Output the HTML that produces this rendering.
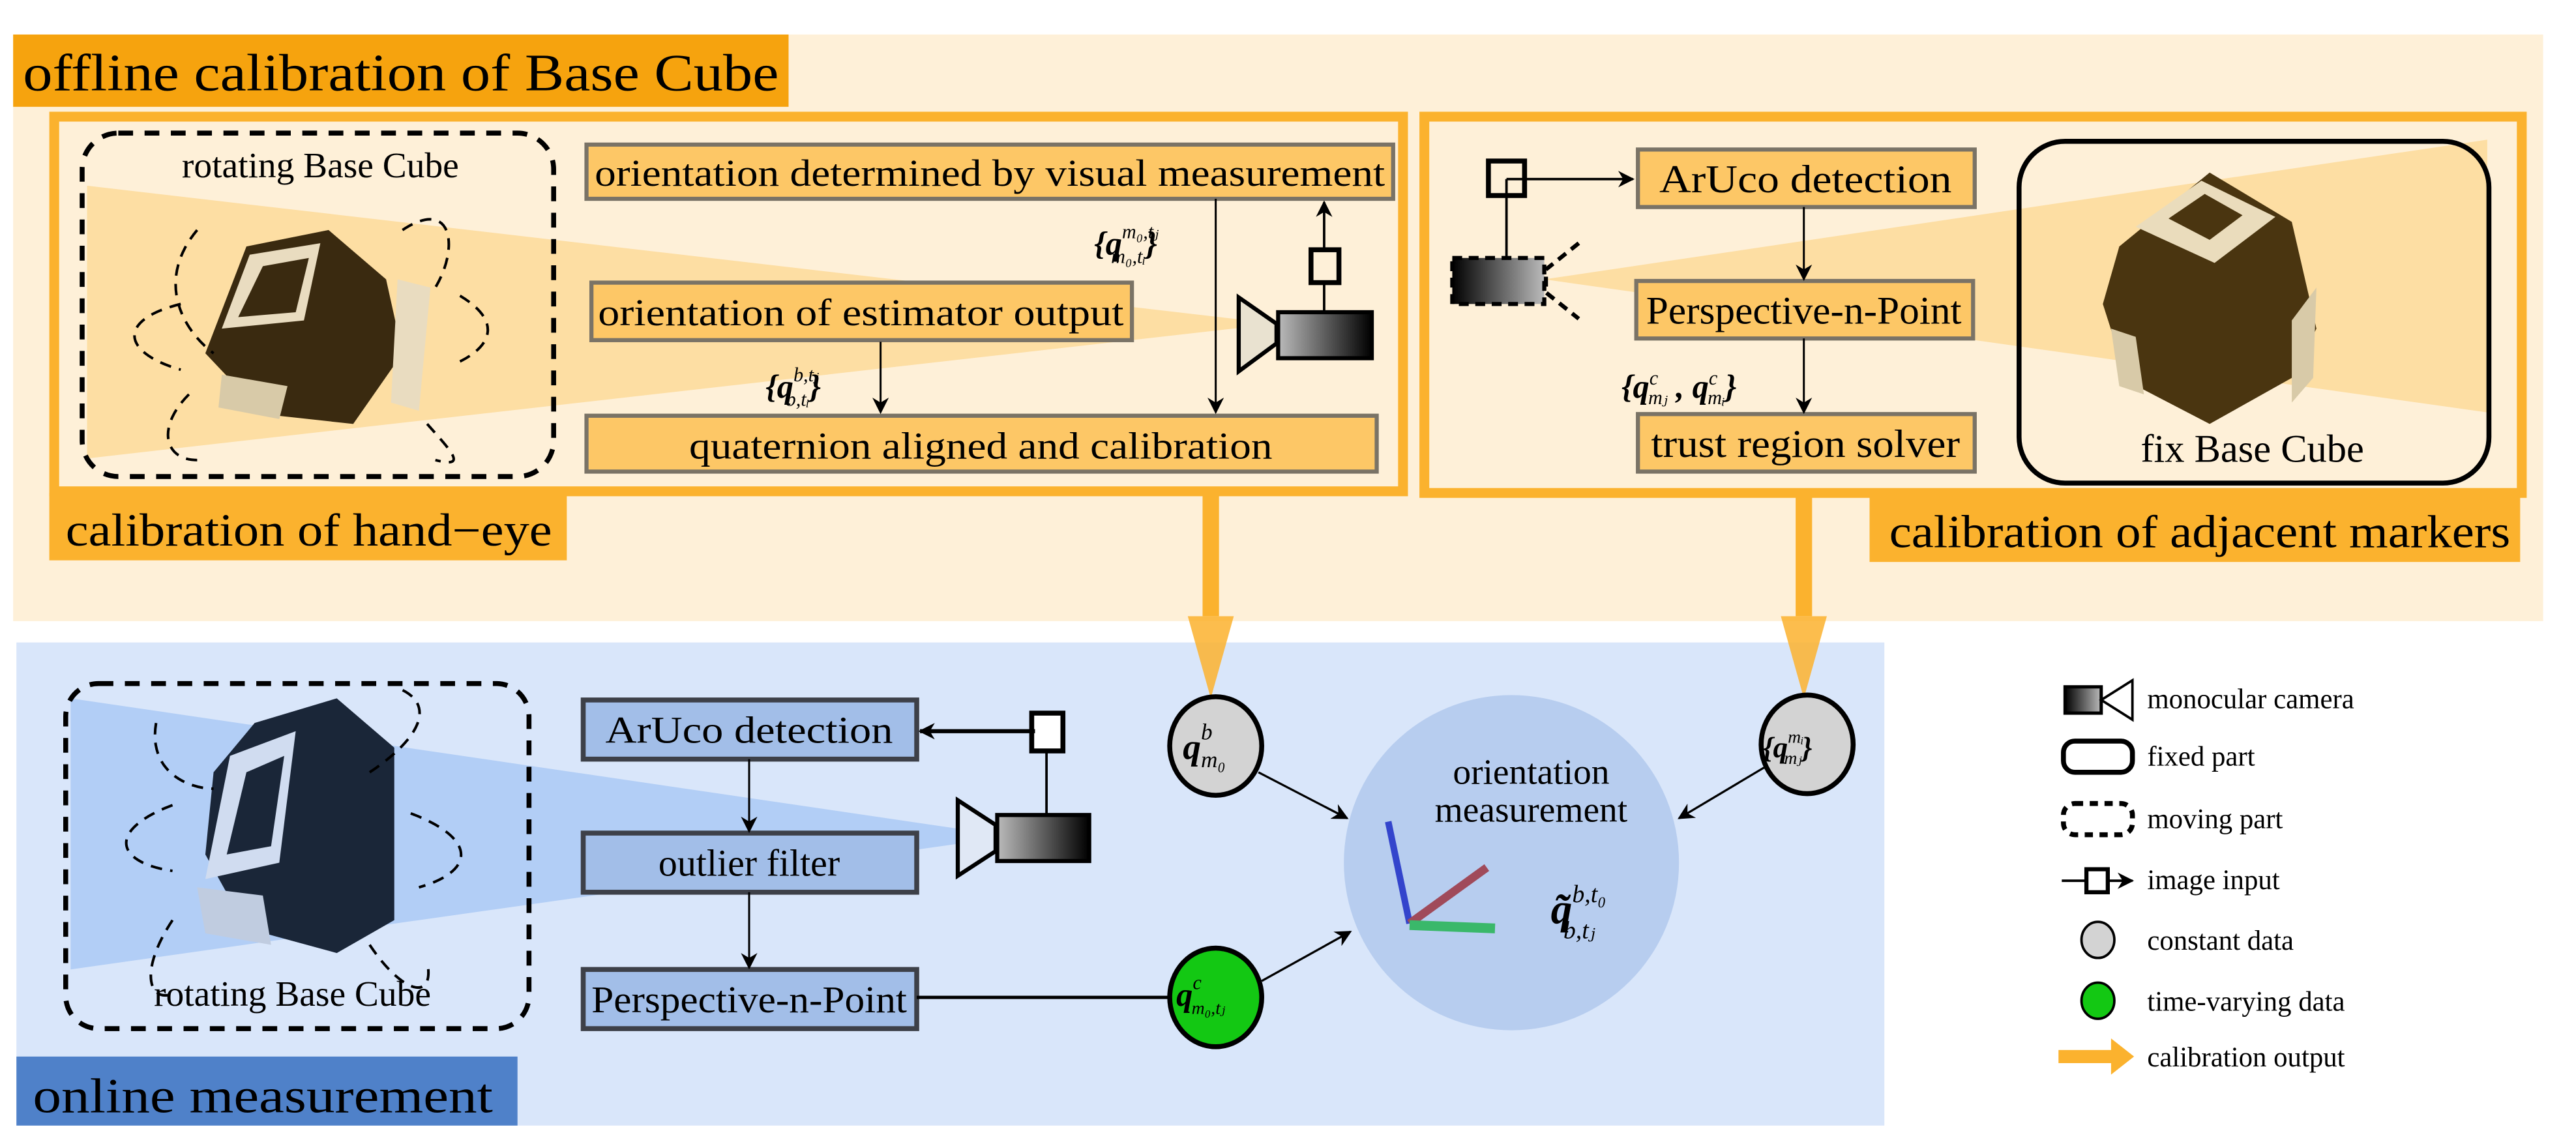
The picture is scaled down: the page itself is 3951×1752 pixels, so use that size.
<!DOCTYPE html>
<html><head><meta charset="utf-8"><style>html,body{margin:0;padding:0;background:#fff}svg{display:block}svg text{font-family:"Liberation Serif","Times New Roman","DejaVu Serif",serif;fill:#000}</style></head>
<body>
<svg width="3951" height="1752" viewBox="0 0 1568 695" preserveAspectRatio="none" xmlns="http://www.w3.org/2000/svg">
<defs>
<marker id="ah" markerWidth="10" markerHeight="10" refX="9" refY="5" orient="auto" markerUnits="userSpaceOnUse"><path d="M0,0 L10,5 L0,10 L3,5 Z" fill="#000"/></marker>
<linearGradient id="cg" x1="0" x2="1"><stop offset="0" stop-color="#000"/><stop offset="1" stop-color="#bbb"/></linearGradient>
<linearGradient id="cg2" x1="0" x2="1"><stop offset="0" stop-color="#bbb"/><stop offset="1" stop-color="#000"/></linearGradient>
</defs>
<rect x="8" y="21" width="1540" height="357" fill="#FEF0D8"/>
<rect x="8" y="21" width="472" height="44" fill="#F6A30E"/>
<text x="14" y="55" font-size="32" textLength="460" lengthAdjust="spacingAndGlyphs">offline calibration of Base Cube</text>

<rect x="33" y="71" width="821" height="228" fill="#FEF0D8" stroke="#FBB22E" stroke-width="6"/>
<rect x="30" y="300" width="315" height="41" fill="#FBB22E"/>
<text x="40" y="332" font-size="28" textLength="296" lengthAdjust="spacingAndGlyphs">calibration of hand−eye</text>
<polygon points="53,113 777,197 53,279" fill="#FCD996" opacity="0.8"/>
<rect x="50" y="81" width="287" height="209" rx="22" fill="none" stroke="#000" stroke-width="3" stroke-dasharray="9,7"/>
<text x="195" y="108" font-size="22" text-anchor="middle">rotating Base Cube</text>
<g>
<polygon points="150,150 200,140 235,170 245,215 215,258 160,252 125,215" fill="#3a2a10"/>
<polygon points="152,155 195,148 185,195 135,200" fill="#e9dcc0"/>
<polygon points="160,162 188,157 180,190 145,193" fill="#3a2a10"/>
<polygon points="242,170 262,175 255,250 238,245" fill="#e9dcc0"/>
<polygon points="135,228 175,235 170,255 133,248" fill="#d8caa8"/>
</g>
<g fill="none" stroke="#000" stroke-width="1.6" stroke-dasharray="7,5">
<path d="M120,140 C95,170 110,200 130,215"/>
<path d="M245,140 C275,120 280,150 265,175"/>
<path d="M110,185 C70,195 75,215 110,225"/>
<path d="M280,180 C305,195 300,210 280,220"/>
<path d="M115,240 C95,260 100,280 120,280"/>
<path d="M260,258 C275,275 285,285 265,280"/>
</g>
<rect x="357" y="88" width="491" height="33" fill="#FDC766" stroke="#7a7366" stroke-width="2.5"/>
<text x="362" y="113" font-size="23" textLength="481" lengthAdjust="spacingAndGlyphs">orientation determined by visual measurement</text>
<rect x="360" y="172" width="329" height="35" fill="#FDC766" stroke="#7a7366" stroke-width="2.5"/>
<text x="364" y="198" font-size="23" textLength="320" lengthAdjust="spacingAndGlyphs">orientation of estimator output</text>
<rect x="357" y="253" width="481" height="34" fill="#FDC766" stroke="#7a7366" stroke-width="2.5"/>
<text x="597" y="279" font-size="23" text-anchor="middle" textLength="355" lengthAdjust="spacingAndGlyphs">quaternion aligned and calibration</text>
<line x1="536" y1="208" x2="536" y2="251" stroke="#000" stroke-width="1.2" marker-end="url(#ah)"/>
<line x1="740" y1="121" x2="740" y2="251" stroke="#000" stroke-width="1.2" marker-end="url(#ah)"/>
<text x="466" y="242" font-size="20" font-style="italic" font-weight="bold">{q<tspan font-size="12" font-weight="normal" dy="-10">b,tⱼ</tspan><tspan font-size="12" font-weight="normal" dx="-20" dy="15">b,tᵢ</tspan><tspan font-size="20" dy="-5">}</tspan></text>
<text x="666" y="155" font-size="20" font-style="italic" font-weight="bold">{q<tspan font-size="12" font-weight="normal" dy="-10">m₀,tⱼ</tspan><tspan font-size="12" font-weight="normal" dx="-29" dy="15">m₀,tᵢ</tspan><tspan font-size="20" dy="-5">}</tspan></text>
<polygon points="754,181 777,197 777,209 754,226" fill="#e9e2d0" stroke="#000" stroke-width="2.5"/>
<rect x="778" y="190" width="57" height="28" fill="url(#cg2)" stroke="#000" stroke-width="2.5"/>
<line x1="806" y1="190" x2="806" y2="123" stroke="#000" stroke-width="1.5" marker-end="url(#ah)"/>
<rect x="798" y="152" width="17" height="20" fill="#FEF0D8" stroke="#000" stroke-width="3"/>

<rect x="867" y="71" width="668" height="229" fill="#FEF0D8" stroke="#FBB22E" stroke-width="6"/>
<rect x="1138" y="301" width="396" height="41" fill="#FBB22E"/>
<text x="1150" y="333" font-size="28" textLength="378" lengthAdjust="spacingAndGlyphs">calibration of adjacent markers</text>
<polygon points="940,170 1514,85 1514,251" fill="#FCD996" opacity="0.8"/>
<rect x="1229" y="86" width="286" height="208" rx="28" fill="none" stroke="#000" stroke-width="3"/>
<g>
<polygon points="1290,150 1345,105 1395,135 1410,200 1395,230 1345,258 1295,232 1280,185" fill="#4a3510"/>
<polygon points="1300,138 1340,110 1385,132 1348,160" fill="#eadcbc"/>
<polygon points="1320,133 1342,118 1365,131 1345,146" fill="#4a3510"/>
<polygon points="1395,195 1410,175 1408,230 1395,245" fill="#d8caa8"/>
<polygon points="1285,200 1300,205 1305,240 1290,235" fill="#d8caa8"/>
</g>
<text x="1371" y="281" font-size="24" text-anchor="middle">fix Base Cube</text>
<rect x="997" y="91" width="205" height="35" fill="#FDC766" stroke="#7a7366" stroke-width="2.5"/>
<text x="1099" y="117" font-size="24" text-anchor="middle" textLength="178" lengthAdjust="spacingAndGlyphs">ArUco detection</text>
<rect x="996" y="171" width="205" height="35" fill="#FDC766" stroke="#7a7366" stroke-width="2.5"/>
<text x="1098" y="197" font-size="24" text-anchor="middle" textLength="192" lengthAdjust="spacingAndGlyphs">Perspective-n-Point</text>
<rect x="997" y="252" width="205" height="35" fill="#FDC766" stroke="#7a7366" stroke-width="2.5"/>
<text x="1099" y="278" font-size="24" text-anchor="middle" textLength="188" lengthAdjust="spacingAndGlyphs">trust region solver</text>
<line x1="1098" y1="126" x2="1098" y2="170" stroke="#000" stroke-width="1.2" marker-end="url(#ah)"/>
<line x1="1098" y1="206" x2="1098" y2="251" stroke="#000" stroke-width="1.2" marker-end="url(#ah)"/>
<text x="987" y="242" font-size="20" font-style="italic" font-weight="bold">{q<tspan font-size="12" font-weight="normal" dy="-8">c</tspan><tspan font-size="12" font-weight="normal" dx="-6" dy="12">mⱼ</tspan><tspan dy="-4"> , q</tspan><tspan font-size="12" font-weight="normal" dy="-8">c</tspan><tspan font-size="12" font-weight="normal" dx="-6" dy="12">mᵢ</tspan><tspan dy="-4">}</tspan></text>
<rect x="884" y="157" width="56" height="28" fill="url(#cg)" stroke="#000" stroke-width="2.5" stroke-dasharray="6,4"/>
<polyline points="961,148 941,164 941,178 961,194" fill="none" stroke="#000" stroke-width="2.5" stroke-dasharray="6,4"/>
<line x1="917" y1="156" x2="917" y2="109" stroke="#000" stroke-width="1.5"/>
<rect x="906" y="98" width="22" height="21" fill="none" stroke="#000" stroke-width="3"/>
<line x1="917" y1="109" x2="994" y2="109" stroke="#000" stroke-width="1.5" marker-end="url(#ah)"/>

<rect x="10" y="391" width="1137" height="294" fill="#D9E6FA"/>
<rect x="10" y="643" width="305" height="42" fill="#4F81C9"/>
<text x="20" y="677" font-size="30" textLength="280" lengthAdjust="spacingAndGlyphs">online measurement</text>
<polygon points="43,425 615,509 43,590" fill="#A8C8F5" opacity="0.8"/>
<g>
<polygon points="155,440 205,425 240,455 240,560 205,580 150,565 125,520 130,470" fill="#1a2638"/>
<polygon points="140,460 180,445 170,525 125,535" fill="#d0dcf0"/>
<polygon points="150,470 173,460 165,515 138,520" fill="#1a2638"/>
<polygon points="120,540 160,545 165,575 125,568" fill="#c0cce0"/>
</g>
<g fill="none" stroke="#000" stroke-width="1.6" stroke-dasharray="7,5">
<path d="M95,440 C90,470 115,480 130,480"/>
<path d="M225,470 C255,450 265,430 245,420"/>
<path d="M105,490 C65,505 70,525 105,530"/>
<path d="M250,495 C290,510 290,530 255,540"/>
<path d="M105,560 C85,590 90,610 105,605"/>
<path d="M225,575 C245,605 265,610 260,585"/>
</g>
<rect x="40" y="416" width="282" height="210" rx="20" fill="none" stroke="#000" stroke-width="3" stroke-dasharray="9,7"/>
<text x="178" y="612" font-size="22" text-anchor="middle">rotating Base Cube</text>
<g stroke="#3d4048" stroke-width="3">
<rect x="355" y="426" width="203" height="36" fill="#A2BEE8"/>
<rect x="355" y="507" width="203" height="36" fill="#A2BEE8"/>
<rect x="355" y="590" width="203" height="36" fill="#A2BEE8"/>
</g>
<text x="456" y="452" font-size="23" text-anchor="middle" textLength="175" lengthAdjust="spacingAndGlyphs">ArUco detection</text>
<text x="456" y="533" font-size="23" text-anchor="middle">outlier filter</text>
<text x="456" y="616" font-size="23" text-anchor="middle" textLength="192" lengthAdjust="spacingAndGlyphs">Perspective-n-Point</text>
<line x1="456" y1="462" x2="456" y2="506" stroke="#000" stroke-width="1.2" marker-end="url(#ah)"/>
<line x1="456" y1="543" x2="456" y2="589" stroke="#000" stroke-width="1.2" marker-end="url(#ah)"/>
<line x1="558" y1="607" x2="712" y2="607" stroke="#000" stroke-width="2"/>
<polygon points="583,487 606,502 606,518 583,533" fill="#e0e8f5" stroke="#000" stroke-width="2.5"/>
<rect x="607" y="496" width="56" height="28" fill="url(#cg2)" stroke="#000" stroke-width="2.5"/>
<line x1="637" y1="496" x2="637" y2="445" stroke="#000" stroke-width="1.5"/>
<rect x="628" y="434" width="19" height="23" fill="#fff" stroke="#000" stroke-width="3"/>
<line x1="630" y1="445" x2="560" y2="445" stroke="#000" stroke-width="2.5" marker-end="url(#ah)"/>

<g fill="#FBB22E">
<rect x="732" y="300" width="10" height="75"/>
<polygon points="723,375 751,375 737,425" opacity="0.85"/>
<rect x="1093" y="300" width="10" height="75"/>
<polygon points="1084,375 1112,375 1098,425" opacity="0.85"/>
</g>
<circle cx="920" cy="525" r="102" fill="#B7CDEF"/>
<ellipse cx="740" cy="454" rx="28" ry="30" fill="#D3D3D3" stroke="#000" stroke-width="3"/>
<ellipse cx="1100" cy="453" rx="28" ry="30" fill="#D3D3D3" stroke="#000" stroke-width="3"/>
<ellipse cx="740" cy="607" rx="28" ry="30" fill="#13C813" stroke="#000" stroke-width="3"/>
<text x="720" y="462" font-size="22" font-style="italic" font-weight="bold">q<tspan font-size="14" font-weight="normal" dy="-12">b</tspan><tspan font-size="14" font-weight="normal" dx="-7" dy="17">m₀</tspan></text>
<text x="1073" y="461" font-size="18" font-style="italic" font-weight="bold">{q<tspan font-size="11" font-weight="normal" dy="-9">mᵢ</tspan><tspan font-size="11" font-weight="normal" dx="-12" dy="13">mⱼ</tspan><tspan dy="-4">}</tspan></text>
<text x="716" y="612" font-size="20" font-style="italic" font-weight="bold">q<tspan font-size="12" font-weight="normal" dy="-10">c</tspan><tspan font-size="11" font-weight="normal" dx="-6" dy="15">m₀,tⱼ</tspan></text>
<text x="932" y="477" font-size="22" text-anchor="middle">orientation</text>
<text x="932" y="500" font-size="22" text-anchor="middle">measurement</text>
<line x1="845" y1="500" x2="858" y2="562" stroke="#3344cc" stroke-width="4"/>
<line x1="858" y1="562" x2="905" y2="528" stroke="#a04a5a" stroke-width="5"/>
<line x1="858" y1="563" x2="910" y2="565" stroke="#3ab86a" stroke-width="6"/>
<text x="944" y="562" font-size="26" font-style="italic" font-weight="bold">q̃<tspan font-size="15" font-weight="normal" dy="-13">b,t₀</tspan><tspan font-size="15" font-weight="normal" dx="-26" dy="22">b,tⱼ</tspan></text>
<line x1="766" y1="470" x2="820" y2="498" stroke="#000" stroke-width="1.3" marker-end="url(#ah)"/>
<line x1="1074" y1="467" x2="1022" y2="498" stroke="#000" stroke-width="1.3" marker-end="url(#ah)"/>
<line x1="768" y1="597" x2="822" y2="567" stroke="#000" stroke-width="1.3" marker-end="url(#ah)"/>

<rect x="1257" y="418" width="22" height="16" fill="url(#cg)" stroke="#000" stroke-width="2"/>
<polygon points="1279,426 1298,414 1298,438" fill="#fff" stroke="#000" stroke-width="1.5"/>
<text x="1307" y="431" font-size="17">monocular camera</text>
<rect x="1256" y="451" width="42" height="19" rx="7" fill="none" stroke="#000" stroke-width="3"/>
<text x="1307" y="466" font-size="17">fixed part</text>
<rect x="1256" y="489" width="42" height="19" rx="7" fill="none" stroke="#000" stroke-width="3" stroke-dasharray="5,4"/>
<text x="1307" y="504" font-size="17">moving part</text>
<line x1="1255" y1="536" x2="1298" y2="536" stroke="#000" stroke-width="1.5" marker-end="url(#ah)"/>
<rect x="1270" y="529" width="13" height="14" fill="#fff" stroke="#000" stroke-width="2.5"/>
<text x="1307" y="541" font-size="17">image input</text>
<ellipse cx="1277" cy="572" rx="10" ry="11" fill="#D3D3D3" stroke="#000" stroke-width="1.5"/>
<text x="1307" y="578" font-size="17">constant data</text>
<ellipse cx="1277" cy="609" rx="10" ry="11" fill="#13C813" stroke="#000" stroke-width="1.5"/>
<text x="1307" y="615" font-size="17">time-varying data</text>
<polygon points="1253,639 1285,639 1285,632 1299,643 1285,654 1285,647 1253,647" fill="#FBB22E"/>
<text x="1307" y="649" font-size="17">calibration output</text>
</svg>
</body></html>
